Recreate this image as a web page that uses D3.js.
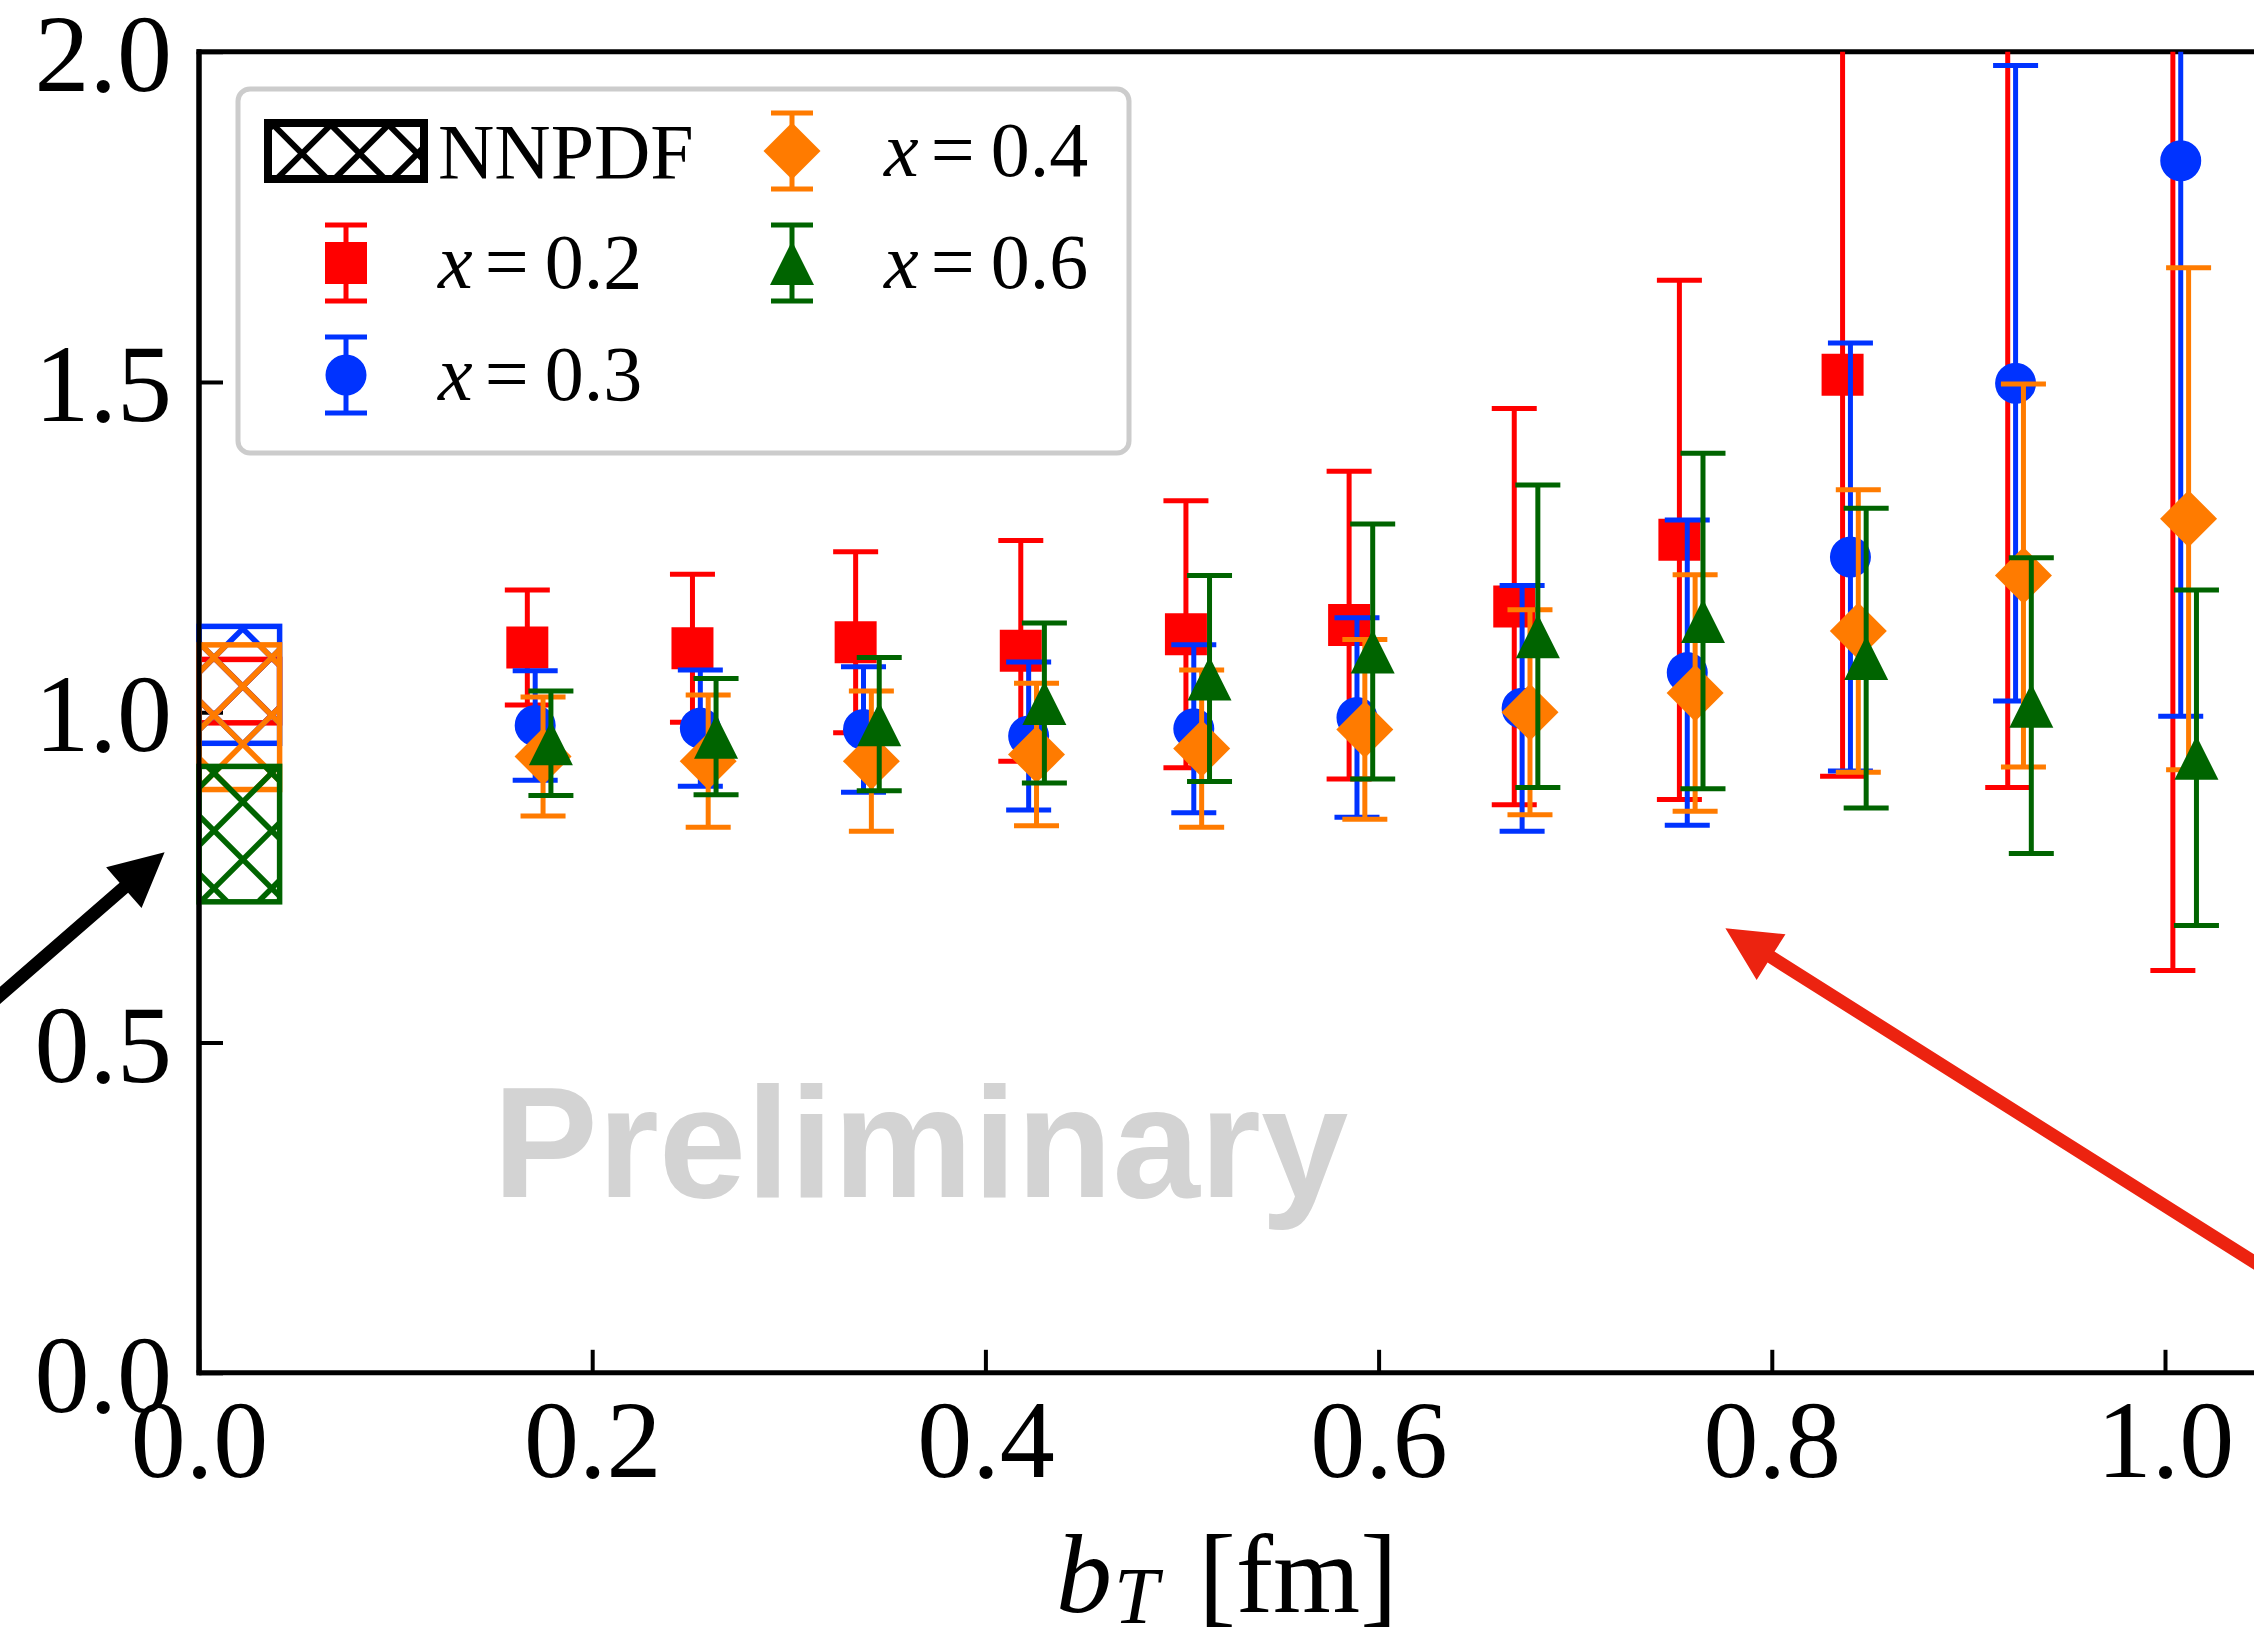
<!DOCTYPE html>
<html>
<head>
<meta charset="utf-8">
<script src="https://cdn.jsdelivr.net/npm/d3@7"></script>
<style>
  body { margin: 0; background: #fff; }
  svg { display: block; }
</style>
</head>
<body>
<svg id="chart" width="2254" height="1631"></svg>
<script>
(function() {

  // lattice b_T values [fm]
  let bT = [0.167, 0.251, 0.334, 0.418, 0.502, 0.585, 0.669, 0.753, 0.836, 0.920, 1.004];

  // ratio central values and (symmetric) errors, one pair per x
  let xLabels = ["0.2", "0.3", "0.4", "0.6"];
  let val02 = [1.098, 1.097, 1.106, 1.093, 1.118, 1.132, 1.160, 1.261, 1.511, 2.20, 2.60];
  let err02 = [0.087, 0.112, 0.137, 0.167, 0.202, 0.233, 0.300, 0.393, 0.608, 1.314, 1.991];
  let val03 = [0.980, 0.976, 0.974, 0.964, 0.975, 0.992, 1.006, 1.060, 1.235, 1.498, 1.835];
  let err03 = [0.083, 0.088, 0.095, 0.112, 0.127, 0.151, 0.186, 0.231, 0.324, 0.481, 0.841];
  let val04 = [0.933, 0.926, 0.926, 0.936, 0.945, 0.974, 1.000, 1.029, 1.123, 1.207, 1.293];
  let err04 = [0.090, 0.100, 0.106, 0.108, 0.119, 0.136, 0.155, 0.179, 0.214, 0.290, 0.380];
  let val06 = [0.953, 0.963, 0.982, 1.014, 1.051, 1.092, 1.115, 1.138, 1.082, 1.010, 0.931];
  let err06 = [0.079, 0.088, 0.101, 0.121, 0.156, 0.193, 0.229, 0.254, 0.227, 0.224, 0.254];

  // NNPDF bands near b_T = 0 (same x order)
  let nnpdfB = [0, 0.041];
  let nnpdfLow = [0.984, 0.953, 0.883, 0.713];
  let nnpdfHigh = [1.080, 1.130, 1.102, 0.918];

  let xTicks = [0, 0.2, 0.4, 0.6, 0.8, 1.0];
  let yTicks = [0, 0.5, 1.0, 1.5, 2.0];

  // annotation arrows, [tail, tip] in data units
  let arrowBlack = [[-0.111, 0.546], [-0.0175, 0.788]];
  let arrowRed = [[1.068, 0.125], [0.7764, 0.673]];

  // styles
  let colors = ["#ff0000", "#0033ff", "#ff7b00", "#006400"];
  let shapes = ["square", "circle", "diamond", "triangle"];
  let dodge = [0, 0.004, 0.008, 0.012];
  let vals = [val02, val03, val04, val06];
  let errs = [err02, err03, err04, err06];
  let serif = "'Liberation Serif', 'Times New Roman', serif";

  let W = 2254, H = 1631;
  let svg = d3.select("#chart");
  let defs = svg.append("defs");

  let x = d3.scaleLinear().domain([0, 1]).range([199, 2165]);
  let y = d3.scaleLinear().domain([0, 2]).range([1372.8, 51.7]);
  let xEnd = W + 20;

  defs.append("clipPath").attr("id", "plot-clip")
      .append("rect")
      .attr("x", x(0)).attr("y", y(2))
      .attr("width", xEnd - x(0)).attr("height", y(0) - y(2));

  // marker shapes
  function markerPath(shape) {
    if (shape === "square") return "M-21,-21H21V21H-21Z";
    if (shape === "circle") return d3.symbol(d3.symbolCircle, Math.PI * 20.5 * 20.5)();
    if (shape === "diamond") return "M0,-28.5L28.5,0L0,28.5L-28.5,0Z";
    return "M0,-22L22,22H-22Z";
  }

  // cross hatch ("xx") clipped to a box, pattern anchored globally
  let P = 57.7;
  let hatchId = 0;
  function hatchBox(g, x0, y0, x1, y1, color, o1, o2, lw, ew) {
    let id = "hatch-clip-" + (hatchId++);
    defs.append("clipPath").attr("id", id)
        .append("rect")
        .attr("x", x0).attr("y", y0)
        .attr("width", x1 - x0).attr("height", y1 - y0);
    let lines = [];
    for (let k = Math.floor((x0 - y1 - o1) / P) - 1; k <= Math.ceil((x1 - y0 - o1) / P) + 1; k++) {
      let c = k * P + o1;
      lines.push([x0 - 10, x0 - 10 - c, x1 + 10, x1 + 10 - c]);
    }
    for (let k = Math.floor((x0 + y0 - o2) / P) - 1; k <= Math.ceil((x1 + y1 - o2) / P) + 1; k++) {
      let c = k * P + o2;
      lines.push([x0 - 10, c - x0 + 10, x1 + 10, c - x1 - 10]);
    }
    g.append("g")
     .attr("clip-path", "url(#" + id + ")")
     .selectAll("line")
     .data(lines)
     .enter()
     .append("line")
     .attr("x1", d => d[0]).attr("y1", d => d[1])
     .attr("x2", d => d[2]).attr("y2", d => d[3])
     .attr("stroke", color)
     .attr("stroke-width", lw);
    g.append("rect")
     .attr("x", x0).attr("y", y0)
     .attr("width", x1 - x0).attr("height", y1 - y0)
     .attr("fill", "none")
     .attr("stroke", color)
     .attr("stroke-width", ew);
  }

  // axes
  let xAxis = d3.axisBottom(x)
                .tickValues(xTicks)
                .tickFormat(d3.format(".1f"))
                .tickSizeInner(-23)
                .tickSizeOuter(0)
                .tickPadding(26);
  let yAxis = d3.axisLeft(y)
                .tickValues(yTicks)
                .tickFormat(d3.format(".1f"))
                .tickSizeInner(-24)
                .tickSizeOuter(0)
                .tickPadding(27);

  svg.append("g")
     .attr("transform", "translate(0," + y(0) + ")")
     .call(xAxis)
     .call(g => g.select(".domain").remove())
     .attr("font-family", serif)
     .attr("font-size", 110)
     .call(g => g.selectAll(".tick line").attr("stroke-width", 4));
  svg.append("g")
     .attr("transform", "translate(" + x(0) + ",0)")
     .call(yAxis)
     .call(g => g.select(".domain").remove())
     .attr("font-family", serif)
     .attr("font-size", 110)
     .call(g => g.selectAll(".tick line").attr("stroke-width", 4))
     .call(g => g.selectAll(".tick text").attr("dy", "0.35em"));

  // spines
  let spines = [
    [x(0), y(0), x(0), y(2)],
    [x(0), y(2), xEnd, y(2)],
    [x(0), y(0), xEnd, y(0)]
  ];
  svg.append("g").selectAll("line")
     .data(spines)
     .enter()
     .append("line")
     .attr("x1", d => d[0]).attr("y1", d => d[1])
     .attr("x2", d => d[2]).attr("y2", d => d[3])
     .attr("stroke", "#000")
     .attr("stroke-width", 5)
     .attr("stroke-linecap", "square");

  // axis label b_T [fm]
  let xl = svg.append("text")
              .attr("x", 1056)
              .attr("y", 1612)
              .attr("font-family", serif)
              .attr("font-size", 112);
  xl.append("tspan").attr("font-style", "italic").text("b");
  xl.append("tspan").attr("font-style", "italic").attr("font-size", 80)
    .attr("dy", 11).attr("dx", 2).text("T");
  xl.append("tspan").attr("dy", -11).attr("dx", 40).text("[fm]");

  // watermark
  svg.append("text")
     .attr("x", 493)
     .attr("y", 1197)
     .attr("font-family", "'Liberation Sans', Arial, sans-serif")
     .attr("font-weight", "bold")
     .attr("font-size", 157)
     .attr("fill", "#d3d3d3")
     .text("Preliminary");

  // NNPDF bands
  let bands = svg.append("g");
  xLabels.forEach((lab, i) => {
    hatchBox(bands, x(nnpdfB[0]), y(nnpdfHigh[i]), x(nnpdfB[1]), y(nnpdfLow[i]),
             colors[i], 18, 6, 5.5, 5.5);
  });
  // redraw left spine over the band edges
  svg.append("line")
     .attr("x1", x(0)).attr("y1", y(0)).attr("x2", x(0)).attr("y2", y(2))
     .attr("stroke", "#000").attr("stroke-width", 5);

  // lattice points with error bars
  let plot = svg.append("g").attr("clip-path", "url(#plot-clip)");
  xLabels.forEach((lab, i) => {
    let pts = bT.map((b, j) => ({b: b + dodge[i], v: vals[i][j], e: errs[i][j]}));
    let g = plot.append("g")
                .attr("stroke", colors[i])
                .attr("fill", colors[i]);
    g.selectAll(".bar")
     .data(pts)
     .enter()
     .append("line")
     .attr("x1", d => x(d.b)).attr("x2", d => x(d.b))
     .attr("y1", d => y(d.v - d.e)).attr("y2", d => y(d.v + d.e))
     .attr("stroke-width", 5);
    g.selectAll(".cap")
     .data(pts.flatMap(d => [[d.b, d.v - d.e], [d.b, d.v + d.e]]))
     .enter()
     .append("line")
     .attr("x1", d => x(d[0]) - 22.5).attr("x2", d => x(d[0]) + 22.5)
     .attr("y1", d => y(d[1])).attr("y2", d => y(d[1]))
     .attr("stroke-width", 5);
    g.selectAll(".mark")
     .data(pts)
     .enter()
     .append("path")
     .attr("d", markerPath(shapes[i]))
     .attr("stroke", "none")
     .attr("transform", d => "translate(" + x(d.b) + "," + y(d.v) + ")");
  });

  // legend
  let legend = svg.append("g");
  legend.append("rect")
        .attr("x", 238).attr("y", 89)
        .attr("width", 891).attr("height", 364)
        .attr("rx", 12)
        .attr("fill", "#fff").attr("fill-opacity", 0.8)
        .attr("stroke", "#cccccc").attr("stroke-width", 5);

  hatchBox(legend, 268, 123, 424, 179, "#000", 33, -6, 6, 8);
  legend.append("text")
        .attr("x", 438).attr("y", 178)
        .attr("font-family", serif).attr("font-size", 78)
        .text("NNPDF");

  // column-major like matplotlib ncol=2: NNPDF, 0.2, 0.3 | 0.4, 0.6
  let slots = [[0, 1], [0, 2], [1, 0], [1, 1]];
  let colX = [346, 792];
  let rowY = [151, 263, 375];
  xLabels.forEach((lab, i) => {
    let cx = colX[slots[i][0]], cy = rowY[slots[i][1]];
    let g = legend.append("g").attr("stroke", colors[i]).attr("fill", colors[i]);
    g.append("line")
     .attr("x1", cx).attr("x2", cx).attr("y1", cy - 38).attr("y2", cy + 38)
     .attr("stroke-width", 5);
    [cy - 38, cy + 38].forEach(cyc => {
      g.append("line")
       .attr("x1", cx - 21).attr("x2", cx + 21).attr("y1", cyc).attr("y2", cyc)
       .attr("stroke-width", 5);
    });
    g.append("path")
     .attr("d", markerPath(shapes[i]))
     .attr("stroke", "none")
     .attr("transform", "translate(" + cx + "," + cy + ")");
    let t = legend.append("text")
                  .attr("x", cx + 92).attr("y", cy + 25)
                  .attr("font-family", serif).attr("font-size", 78);
    t.append("tspan").attr("font-style", "italic").text("x");
    t.append("tspan").attr("dx", 12).text("=");
    t.append("tspan").attr("dx", 16).text(lab);
  });

  // arrows
  function arrow(pts, color) {
    let t = [x(pts[0][0]), y(pts[0][1])];
    let p = [x(pts[1][0]), y(pts[1][1])];
    let len = Math.hypot(p[0] - t[0], p[1] - t[1]);
    let u = [(p[0] - t[0]) / len, (p[1] - t[1]) / len];
    let n = [-u[1], u[0]];
    let L = 54, hw = 27, w = 6.5;
    let b = [p[0] - u[0] * L, p[1] - u[1] * L];
    let poly = [
      [t[0] + n[0] * w, t[1] + n[1] * w],
      [b[0] + n[0] * w, b[1] + n[1] * w],
      [b[0] + n[0] * hw, b[1] + n[1] * hw],
      p,
      [b[0] - n[0] * hw, b[1] - n[1] * hw],
      [b[0] - n[0] * w, b[1] - n[1] * w],
      [t[0] - n[0] * w, t[1] - n[1] * w]
    ];
    svg.append("path")
       .attr("d", d3.line()(poly) + "Z")
       .attr("fill", color);
  }
  arrow(arrowBlack, "#000");
  arrow(arrowRed, "#ec2310");

})();
</script>
</body>
</html>
